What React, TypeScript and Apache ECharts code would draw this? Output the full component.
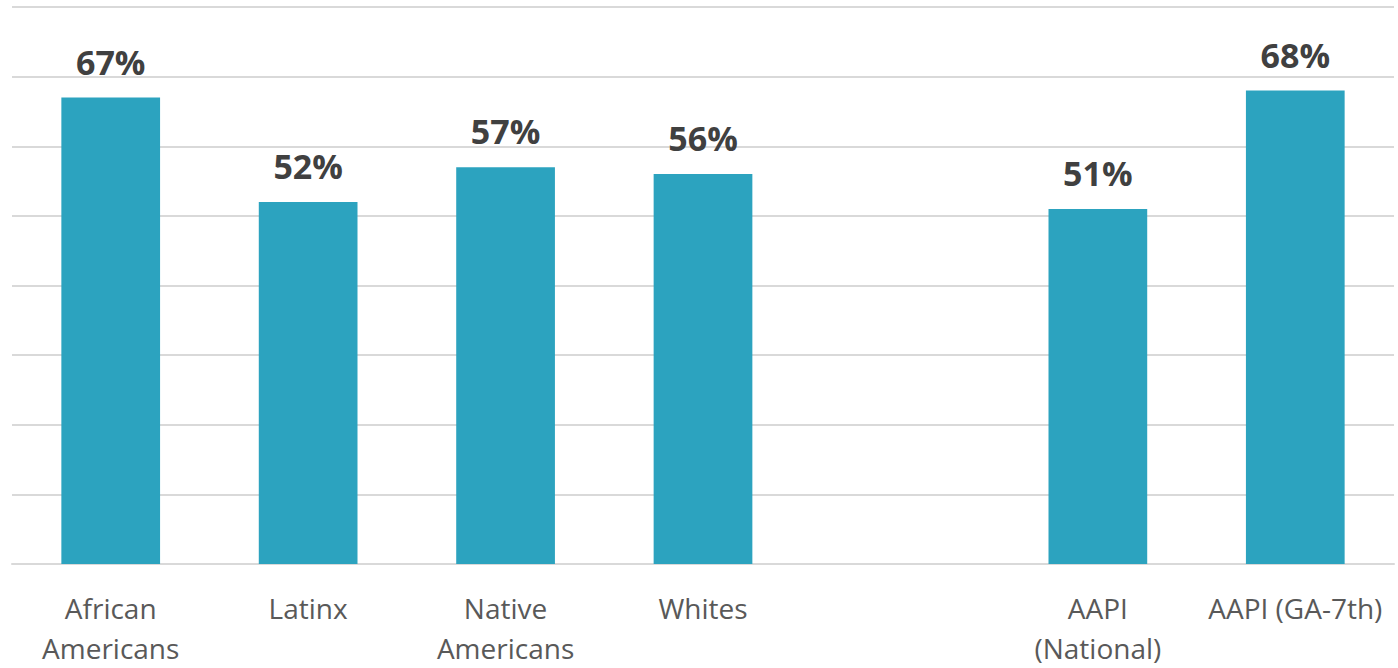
import React, { useEffect, useRef } from "react";
import * as echarts from "echarts";

const categories = [
  "African\nAmericans",
  "Latinx",
  "Native\nAmericans",
  "Whites",
  "",
  "AAPI\n(National)",
  "AAPI (GA-7th)",
];
const values: (number | null)[] = [67, 52, 57, 56, null, 51, 68];

export default function App() {
  const ref = useRef<HTMLDivElement>(null);
  useEffect(() => {
    document.body.style.margin = "0";
    const chart = echarts.init(ref.current!, null, { renderer: "svg" });
    chart.setOption({
      animation: false,
      grid: { left: 12, right: 4, top: 7, bottom: 102, containLabel: false },
      xAxis: {
        type: "category",
        data: categories,
        axisTick: { show: false },
        axisLine: { lineStyle: { color: "#d9d9d9", width: 2 } },
        axisLabel: {
          interval: 0,
          color: "#595959",
          fontFamily: "Open Sans",
          fontSize: 28,
          lineHeight: 40,
          margin: 24,
        },
      },
      yAxis: {
        type: "value",
        min: 0,
        max: 80,
        interval: 10,
        axisLabel: { show: false },
        axisLine: { show: false },
        axisTick: { show: false },
        splitLine: { lineStyle: { color: "#d9d9d9", width: 2 } },
      },
      series: [
        {
          type: "bar",
          data: values,
          barWidth: "50%",
          itemStyle: { color: "#2CA3BF" },
          label: {
            show: true,
            position: "top",
            distance: 19,
            formatter: (p: any) => p.value + "%",
            color: "#404040",
            fontFamily: "Open Sans",
            fontWeight: "bold",
            fontSize: 34,
          },
        },
      ],
    });
    return () => chart.dispose();
  }, []);
  return <div ref={ref} style={{ width: 1398, height: 668 }} />;
}
